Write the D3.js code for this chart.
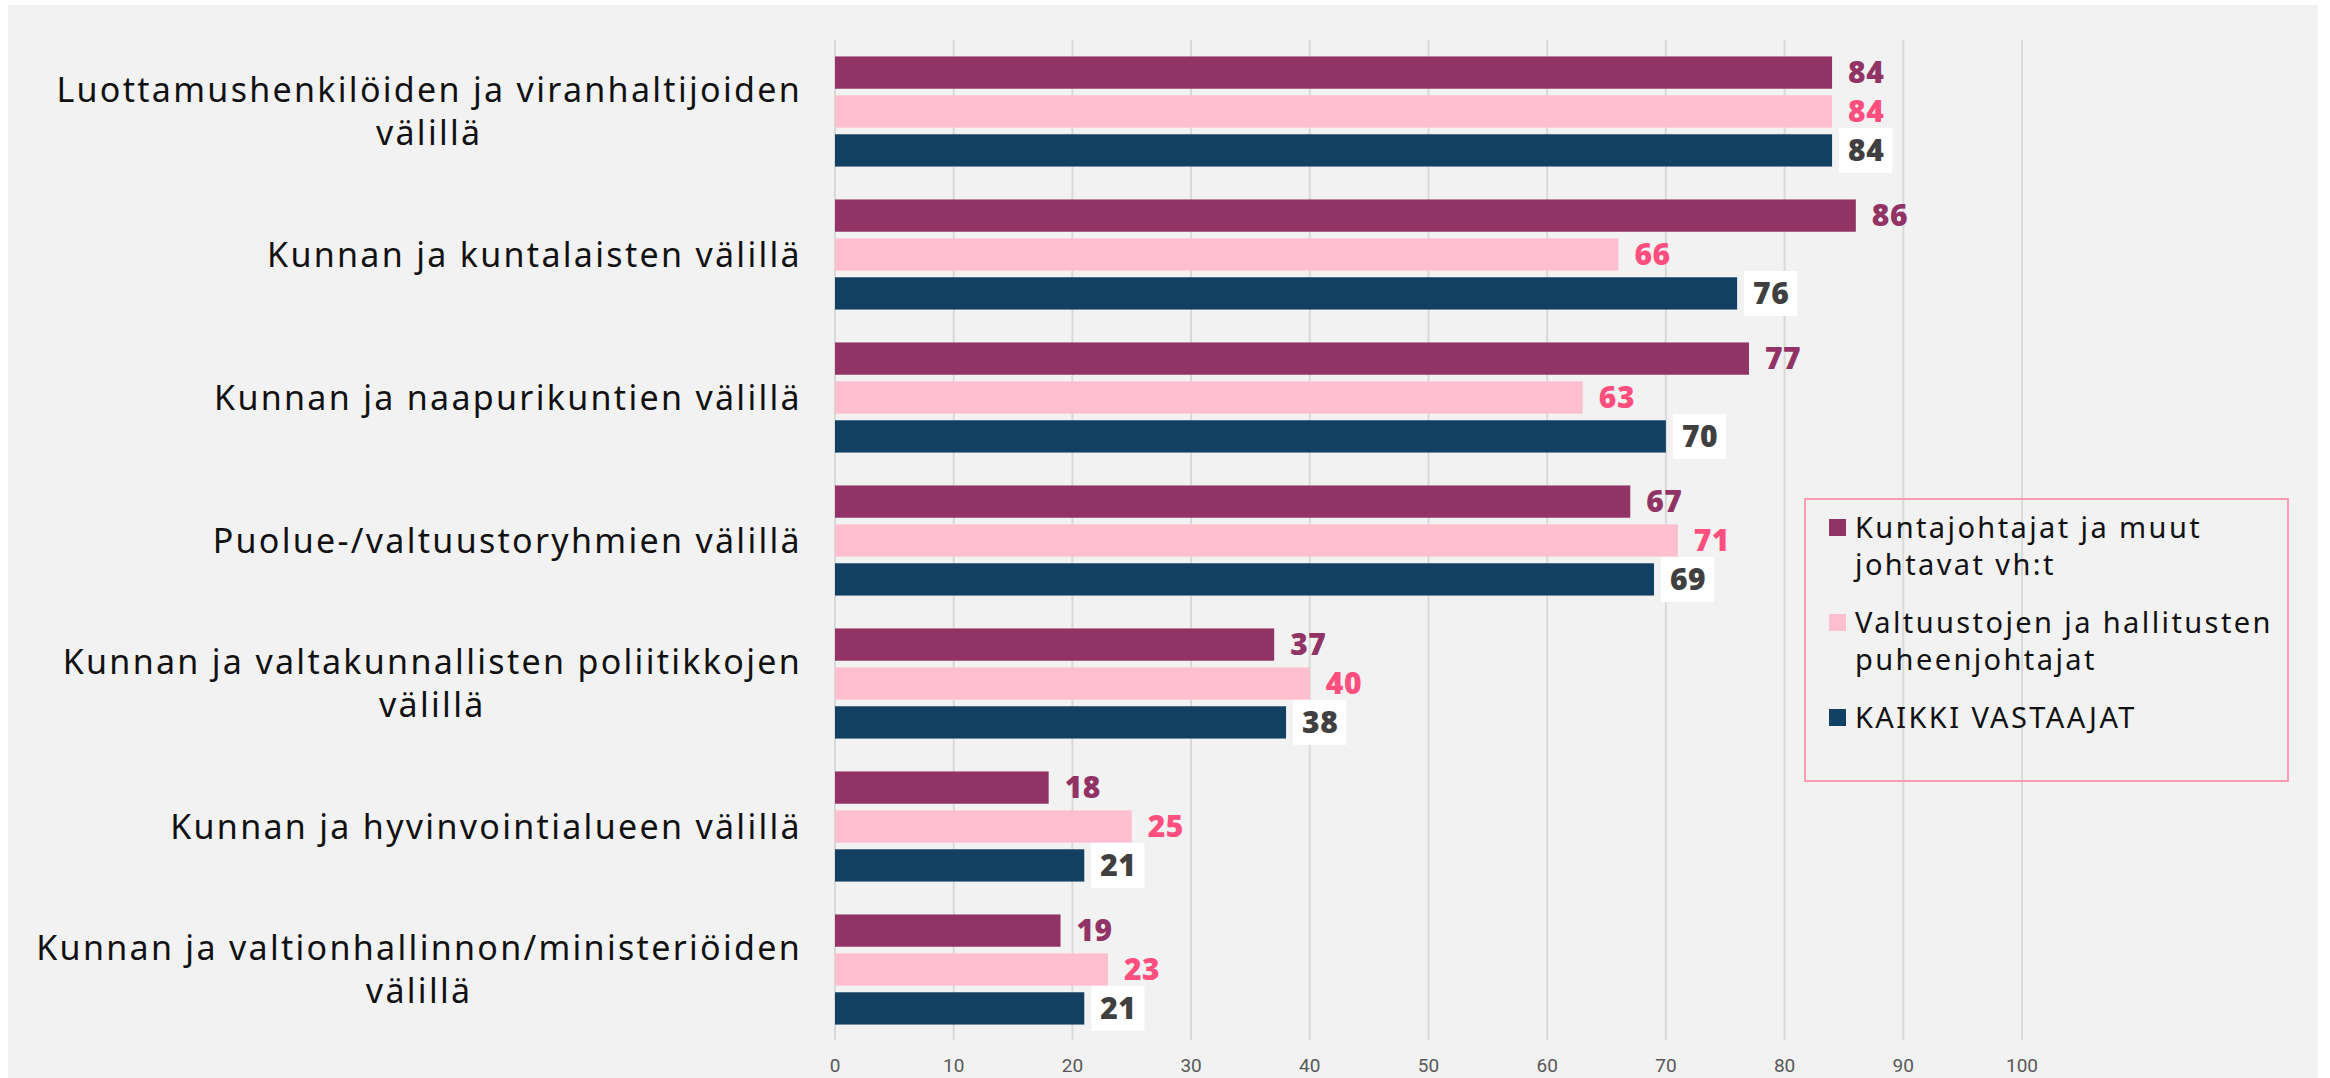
<!DOCTYPE html>
<html>
<head>
<meta charset="utf-8">
<script src="https://cdn.jsdelivr.net/npm/d3@7"></script>
<style>
    body { margin: 0; background: #ffffff; }
    svg { display: block; }
</style>
</head>
<body>
<div class="js-chart"></div>
<script>
'use strict';

//categories, one array of lines per label
var categories = [
    ['Luottamushenkilöiden ja viranhaltijoiden', 'välillä'],
    ['Kunnan ja kuntalaisten välillä'],
    ['Kunnan ja naapurikuntien välillä'],
    ['Puolue-/valtuustoryhmien välillä'],
    ['Kunnan ja valtakunnallisten poliitikkojen', 'välillä'],
    ['Kunnan ja hyvinvointialueen välillä'],
    ['Kunnan ja valtionhallinnon/ministeriöiden', 'välillä']
];

var seriesNames = [
    ['Kuntajohtajat ja muut', 'johtavat vh:t'],
    ['Valtuustojen ja hallitusten', 'puheenjohtajat'],
    ['KAIKKI VASTAAJAT']
];

var johtajat = [84, 86, 77, 67, 37, 18, 19];
var puheenjohtajat = [84, 66, 63, 71, 40, 25, 23];
var kaikki = [84, 76, 70, 69, 38, 21, 21];

var xTicks = [0, 10, 20, 30, 40, 50, 60, 70, 80, 90, 100];

var barColors = ['#913365', '#ffbfd0', '#124062'];
var labelColors = ['#913365', '#ff4f7e', '#404040'];

var W = 2330, H = 1078;
var series = [johtajat, puheenjohtajat, kaikki];

var svg = d3.select('.js-chart')
    .append('svg')
    .attr('width', W)
    .attr('height', H);

//grey panel
svg.append('rect')
    .attr('x', 8)
    .attr('y', 5)
    .attr('width', 2310)
    .attr('height', H - 5)
    .style('fill', '#f2f2f2');

var x = d3.scaleLinear().domain([0, 100]).range([835, 2022]);
var y = d3.scaleBand()
    .domain(d3.range(categories.length))
    .range([40, 1041])
    .paddingInner(0.23)
    .paddingOuter(0.115);
var ySub = d3.scaleBand()
    .domain(d3.range(series.length))
    .range([0, y.bandwidth()])
    .paddingInner(0.17);

//vertical grid lines
svg.selectAll('.js-grid').data(xTicks).enter().append('line')
    .attr('class', 'js-grid')
    .attr('x1', function (d) { return x(d); })
    .attr('x2', function (d) { return x(d); })
    .attr('y1', 40)
    .attr('y2', 1040)
    .style('stroke', '#d9d9d9')
    .style('stroke-width', 2);

//tick labels
svg.selectAll('.js-tick').data(xTicks).enter().append('text')
    .attr('class', 'js-tick')
    .attr('x', function (d) { return x(d); })
    .attr('y', 1072)
    .attr('text-anchor', 'middle')
    .style('font-family', 'Roboto, sans-serif')
    .style('font-size', '19px')
    .style('fill', '#595959')
    .text(function (d) { return d; });

//category labels, block right aligned, lines centered
var lineH = 43;
categories.forEach(function (lines, i) {
    var cy = y(i) + y.bandwidth() / 2;
    var g = svg.append('g');
    var texts = lines.map(function (line, j) {
        return g.append('text')
            .attr('y', cy + (j - (lines.length - 1) / 2) * lineH)
            .attr('dy', '0.36em')
            .attr('text-anchor', 'middle')
            .style('font-family', '"Noto Sans", sans-serif')
            .style('font-size', '34px')
            .style('letter-spacing', '2.3px')
            .style('fill', '#111111')
            .text(line);
    });
    var maxW = d3.max(texts, function (t) { return t.node().getComputedTextLength(); });
    texts.forEach(function (t) { t.attr('x', 802 - maxW / 2); });
});

//bars and value labels
series.forEach(function (values, s) {
    var rows = svg.selectAll('.js-bar-' + s).data(values).enter().append('g')
        .attr('class', 'js-bar-' + s)
        .attr('transform', function (d, i) { return 'translate(0,' + (y(i) + ySub(s)) + ')'; });

    rows.append('rect')
        .attr('x', x(0))
        .attr('y', 0)
        .attr('width', function (d) { return x(d) - x(0); })
        .attr('height', ySub.bandwidth())
        .style('fill', barColors[s]);

    var labels = rows.append('text')
        .attr('x', function (d) { return x(d) + 16; })
        .attr('y', ySub.bandwidth() / 2)
        .attr('dy', '0.36em')
        .style('font-family', '"Open Sans", sans-serif')
        .style('font-weight', 800)
        .style('font-size', '30px')
        .style('letter-spacing', '0.5px')
        .style('fill', labelColors[s])
        .text(function (d) { return d; });

    //white box behind the navy labels
    if (s === 2) {
        labels.each(function () {
            var bb = this.getBBox();
            d3.select(this.parentNode).insert('rect', 'text')
                .attr('x', bb.x - 9)
                .attr('y', ySub.bandwidth() / 2 - 22.5)
                .attr('width', bb.width + 17)
                .attr('height', 45)
                .style('fill', '#ffffff');
        });
    }
});

//legend
var legend = svg.append('g').attr('transform', 'translate(1805,499)');
legend.append('rect')
    .attr('width', 483)
    .attr('height', 282)
    .style('fill', 'none')
    .style('stroke', '#ff9ab4')
    .style('stroke-width', 2);

seriesNames.forEach(function (lines, s) {
    var item = legend.append('g').attr('transform', 'translate(0,' + (20 + s * 95) + ')');
    item.append('rect')
        .attr('x', 24)
        .attr('y', 0)
        .attr('width', 17)
        .attr('height', 17)
        .style('fill', barColors[s]);
    lines.forEach(function (line, j) {
        item.append('text')
            .attr('x', 50)
            .attr('y', 19 + j * 37)
            .style('font-family', '"Noto Sans", sans-serif')
            .style('font-size', '29px')
            .style('letter-spacing', '2.4px')
            .style('fill', '#111111')
            .text(line);
    });
});
</script>
</body>
</html>
